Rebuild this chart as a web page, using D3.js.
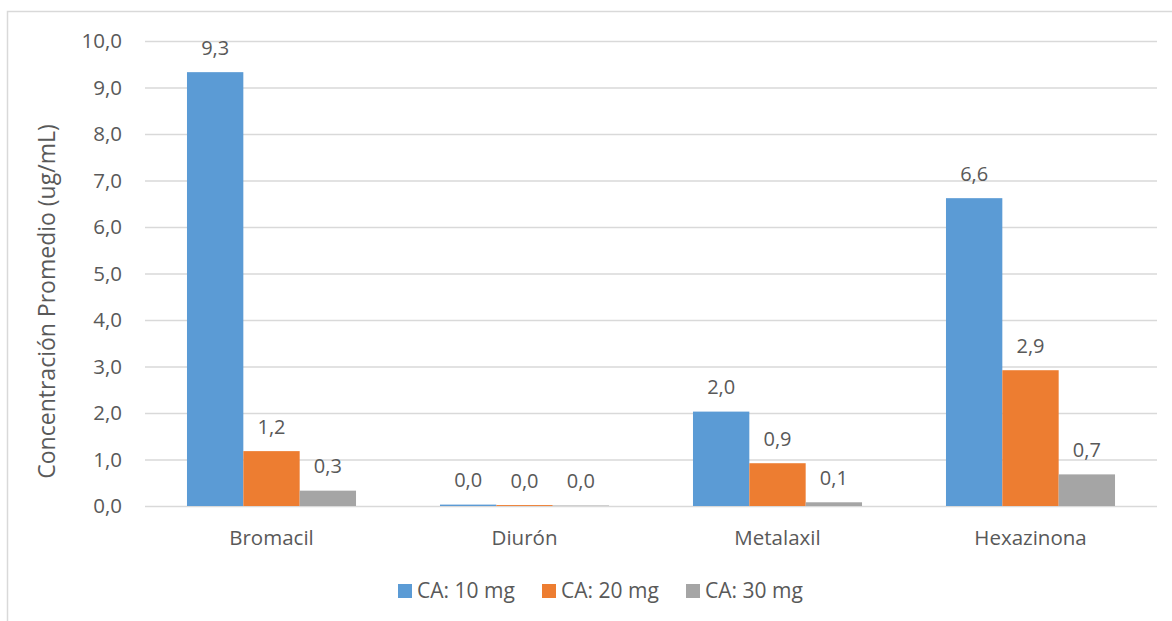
<!DOCTYPE html>
<html>
<head>
<meta charset="utf-8">
<script src="https://cdn.jsdelivr.net/npm/d3@7"></script>
<style>
  html, body { margin: 0; padding: 0; background: #fff; }
  svg { display: block; font-family: "Open Sans", "Noto Sans", sans-serif; }
</style>
</head>
<body>
<svg id="chart" width="1172" height="621"></svg>
<script>
// Average concentration (ug/mL) per herbicide for each activated-carbon dose
const categories = ["Bromacil", "Diurón", "Metalaxil", "Hexazinona"];
const seriesNames = ["CA: 10 mg", "CA: 20 mg", "CA: 30 mg"];
const ca10 = [9.33, 0.03, 2.03, 6.62];
const ca20 = [1.18, 0.02, 0.92, 2.92];
const ca30 = [0.33, 0.01, 0.08, 0.68];
const yTicks = [0, 1, 2, 3, 4, 5, 6, 7, 8, 9, 10];
const colors = ["#5B9BD5", "#ED7D31", "#A5A5A5"];

const seriesValues = [ca10, ca20, ca30];
const rows = categories.map((c, i) => ({
  category: c,
  values: seriesNames.map((s, k) => ({ series: s, value: seriesValues[k][i], k }))
}));

const svg = d3.select("#chart");
const textColor = "#595959";
const gridColor = "#D9D9D9";
const fmt = v => d3.format(".1f")(v).replace(".", ",");

// outer chart frame
svg.append("rect")
  .attr("x", 7.5).attr("y", 11.5)
  .attr("width", 1180).attr("height", 630)
  .attr("fill", "none").attr("stroke", gridColor).attr("stroke-width", 1.5);

const plot = { left: 145, right: 1157, top: 41, bottom: 506 };

const y = d3.scaleLinear().domain([0, 10]).range([plot.bottom, plot.top]);
const x0 = d3.scaleBand().domain(categories).range([plot.left, plot.right]).padding(0);
const x1 = d3.scaleBand().domain(seriesNames).range([0, x0.bandwidth()])
  .paddingInner(0).paddingOuter(0.745);

// gridlines + tick labels
const yAxis = d3.axisLeft(y).tickValues(yTicks).tickSize(-(plot.right - plot.left))
  .tickPadding(23).tickFormat(fmt);
const gy = svg.append("g").attr("transform", `translate(${plot.left},0)`).call(yAxis);
gy.select(".domain").remove();
gy.selectAll(".tick line").attr("stroke", gridColor).attr("stroke-width", 1.5);
gy.selectAll(".tick text").attr("fill", textColor).style("font-size", "20.5px")
  .style("font-family", "'Open Sans', sans-serif");

// bars
const groups = svg.append("g").selectAll("g").data(rows).join("g")
  .attr("transform", d => `translate(${x0(d.category)},0)`);

groups.selectAll("rect").data(d => d.values).join("rect")
  .attr("x", d => x1(d.series))
  .attr("y", d => y(d.value))
  .attr("width", x1.bandwidth())
  .attr("height", d => y(0) - y(d.value))
  .attr("fill", d => colors[d.k]);

// value labels
groups.selectAll("text").data(d => d.values).join("text")
  .attr("x", d => x1(d.series) + x1.bandwidth() / 2)
  .attr("y", d => y(d.value) - 17.5)
  .attr("text-anchor", "middle")
  .attr("fill", textColor)
  .style("font-size", "20px")
  .text(d => fmt(d.value));

// category axis labels
const xAxis = d3.axisBottom(x0).tickSize(0).tickPadding(0);
const gx = svg.append("g").attr("transform", `translate(0,${plot.bottom})`).call(xAxis);
gx.select(".domain").remove();
gx.selectAll(".tick text").attr("fill", textColor).style("font-size", "20.5px")
  .style("font-family", "'Open Sans', sans-serif")
  .attr("y", 39).attr("dy", 0);

// y-axis title
svg.append("text")
  .attr("transform", `translate(55,301.5) rotate(-90)`)
  .attr("text-anchor", "middle")
  .attr("fill", textColor)
  .style("font-size", "23px")
  .text("Concentración Promedio (ug/mL)");

// legend
const legendX = [398, 542, 686];
const legend = svg.append("g").selectAll("g").data(seriesNames).join("g")
  .attr("transform", (d, i) => `translate(${legendX[i]},584)`);
legend.append("rect").attr("width", 14).attr("height", 14)
  .attr("fill", (d, i) => colors[i]);
legend.append("text").attr("x", 19).attr("y", 14)
  .attr("fill", textColor).style("font-size", "21px").text(d => d);
</script>
</body>
</html>
